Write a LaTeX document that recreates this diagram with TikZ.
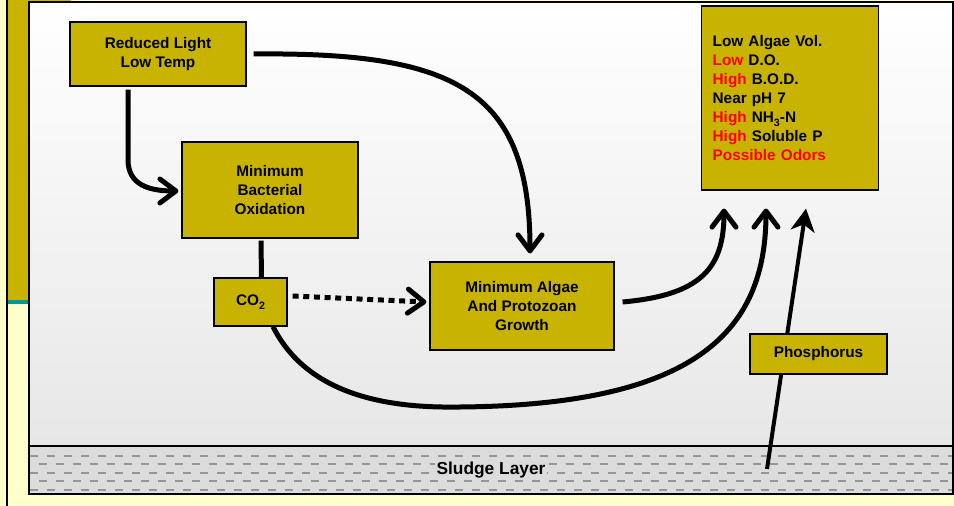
\documentclass[tikz,border=0pt]{standalone}
\usepackage{fontspec}
\setmainfont{Liberation Sans}
\usetikzlibrary{arrows.meta,calc}
\definecolor{boxolive}{RGB}{200,180,0}
\definecolor{paleyellow}{RGB}{255,255,204}
\definecolor{tealbar}{RGB}{0,150,150}
\definecolor{sludgegray}{RGB}{220,220,220}
\definecolor{dashgray}{RGB}{150,150,150}
\definecolor{warnred}{RGB}{255,0,0}
\definecolor{waterlow}{RGB}{231,231,231}
\newcommand{\lowsub}[1]{\raisebox{-0.45ex}{\fontsize{8}{8}\selectfont #1}}

\tikzset{
  box/.style={draw=black, line width=0.9pt, fill=boxolive, inner sep=0pt, align=center,
    font=\bfseries\fontsize{11.5}{14.25}\selectfont},
  flow/.style={line width=3.75pt, -{Straight Barb[length=12pt,width=18pt,round]}},
  flowline/.style={line width=3.75pt},
  dotflow/.style={flow, dash pattern=on 4.5pt off 3.5pt},
  phosflow/.style={line width=3pt, -{Stealth[length=17pt,width=18pt,inset=5pt]}},
  sludgedash/.style={dashgray, line width=1.8pt, dash pattern=on 6pt off 6.75pt}
}

\begin{document}
\begin{tikzpicture}[x=0.75pt,y=-0.75pt]
\useasboundingbox (0,0) rectangle (954,506);
\fill[paleyellow] (0,0) rectangle (954,506);
\fill[boxolive] (8,0) rectangle (29,300);
\fill[boxolive] (29,0) rectangle (71,2);
\fill[tealbar] (6,300) rectangle (29,304);
\fill[black] (6,0) rectangle (8,506);
\shade[top color=white, bottom color=waterlow] (29,2) rectangle (953,446);
\fill[sludgegray] (29,446) rectangle (953,494);
\foreach \y/\off in {455.7/0, 464/8.5, 472.7/0, 481/8.5, 489.7/0}
  \draw[sludgedash, dash phase=\off*0.75pt] (30,\y) -- (952,\y);
\draw[line width=0.9pt] (29,446) -- (953,446);
\draw[line width=0.9pt] (29,2) rectangle (953,494);
\node[fill=sludgegray, inner sep=1pt, font=\bfseries\fontsize{13}{15}\selectfont] (sludge) at (491,470) {Sludge Layer};

\node[box, minimum width=132pt, minimum height=48pt] (reduced) at (158,54) {Reduced Light\\Low Temp};
\node[box, minimum width=132pt, minimum height=72pt] (bact) at (270,190) {Minimum\\Bacterial\\Oxidation};
\node[box, minimum width=54.75pt, minimum height=36pt] (co2) at (250.5,302) {CO\lowsub{2}};
\node[box, minimum width=138pt, minimum height=66pt] (algae) at (522,306) {Minimum Algae\\And Protozoan\\Growth};
\node[box, minimum width=132.75pt, minimum height=138pt, align=left, text width=116pt, inner xsep=8.25pt] (status) at (790,98)
  {Low Algae Vol.\\\textcolor{warnred}{Low} D.O.\\\textcolor{warnred}{High} B.O.D.\\Near pH 7\\\textcolor{warnred}{High} NH\lowsub{3}-N\\\textcolor{warnred}{High} Soluble P\\\textcolor{warnred}{Possible Odors}};
\coordinate (dip) at (460,407);
\coordinate (psrc) at (767,469);

\draw[flow] ($(reduced.south)+(-30,3)$) -- ++(0,70) .. controls +(0,25) and +(-30,0) .. ($(bact.west)+(-3,1)$);
\draw[flow] ($(reduced.east)+(7,0)$) .. controls +(200,-2) and +(0,-165) .. ($(algae.north)+(8,-8)$);
\draw[flowline] ($(bact.south)+(-9,2)$) -- ($(co2.north)+(11,0)$);
\draw[dotflow] ($(co2.east)+(5,-6)$) -- ($(algae.west)+(-3,-4)$);
\draw[flow] ($(co2.south)+(22.5,0)$) .. controls +(37,74) and +(-60,1) .. (dip)
  .. controls +(240,-2) and +(0,120) .. ($(status.south)+(-24,18)$);
\draw[flow] ($(algae.east)+(8,-4)$) .. controls +(78,-7) and +(0,60) .. ($(status.south)+(-66,18)$);
\draw[phosflow] (psrc) -- ($(status.south)+(16,18)$);
\node[box, minimum width=102.75pt, minimum height=30pt] (phos) at (818.5,354) {Phosphorus};
\end{tikzpicture}
\end{document}
